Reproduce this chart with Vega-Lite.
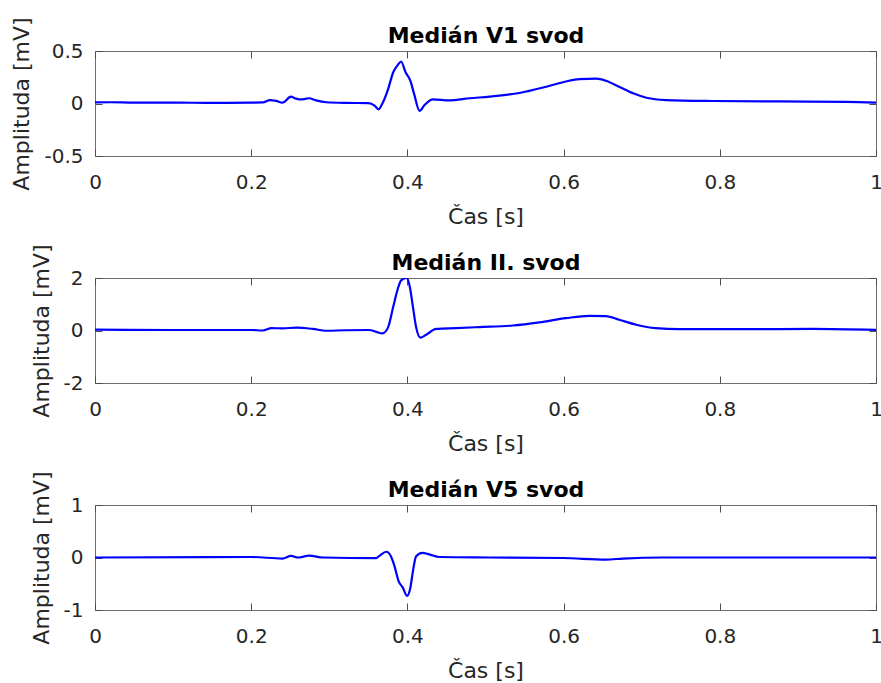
{
  "$schema": "https://vega.github.io/schema/vega-lite/v6.json",
  "padding": {"left": 10, "top": 16, "right": 4, "bottom": 0},
  "spacing": 122,
  "bounds": "flush",
  "config": {
    "font": "DejaVu Sans",
    "view": {"stroke": "#6e6e6e", "strokeWidth": 1},
    "axis": {
      "domain": false,
      "grid": false,
      "zindex": 1,
      "labelFont": "DejaVu Sans",
      "labelFontSize": 20,
      "labelColor": "#262626",
      "titleFont": "DejaVu Sans",
      "titleFontSize": 22,
      "titleFontWeight": "normal",
      "titleColor": "#262626",
      "labelFlush": false,
      "labelOverlap": false,
      "labelBound": false
    }
  },
  "datasets": {
    "v1": [
      {"t": 0, "v": 0.01}, {"t": 0.02, "v": 0.012}, {"t": 0.05, "v": 0.008}, {"t": 0.1, "v": 0.008},
      {"t": 0.15, "v": 0.006}, {"t": 0.2, "v": 0.008}, {"t": 0.215, "v": 0.01}, {"t": 0.224, "v": 0.033},
      {"t": 0.232, "v": 0.025}, {"t": 0.24, "v": 0.008}, {"t": 0.251, "v": 0.065}, {"t": 0.256, "v": 0.05},
      {"t": 0.262, "v": 0.04}, {"t": 0.268, "v": 0.042}, {"t": 0.274, "v": 0.05}, {"t": 0.283, "v": 0.03},
      {"t": 0.296, "v": 0.012}, {"t": 0.32, "v": 0.006}, {"t": 0.35, "v": 0.004}, {"t": 0.358, "v": -0.02},
      {"t": 0.363, "v": -0.055}, {"t": 0.368, "v": 0.0}, {"t": 0.375, "v": 0.13}, {"t": 0.382, "v": 0.3},
      {"t": 0.388, "v": 0.37}, {"t": 0.392, "v": 0.4}, {"t": 0.3975, "v": 0.3}, {"t": 0.4036, "v": 0.22},
      {"t": 0.409, "v": 0.08}, {"t": 0.4155, "v": -0.07}, {"t": 0.422, "v": -0.015}, {"t": 0.4325, "v": 0.04},
      {"t": 0.454, "v": 0.03}, {"t": 0.48, "v": 0.05}, {"t": 0.505, "v": 0.065}, {"t": 0.5435, "v": 0.1},
      {"t": 0.578, "v": 0.16}, {"t": 0.603, "v": 0.21}, {"t": 0.62, "v": 0.233}, {"t": 0.642, "v": 0.236},
      {"t": 0.654, "v": 0.217}, {"t": 0.671, "v": 0.16}, {"t": 0.689, "v": 0.097}, {"t": 0.706, "v": 0.055},
      {"t": 0.731, "v": 0.033}, {"t": 0.791, "v": 0.024}, {"t": 0.876, "v": 0.02}, {"t": 0.962, "v": 0.016},
      {"t": 1.0, "v": 0.008}
    ],
    "ii": [
      {"t": 0, "v": 0.03}, {"t": 0.1, "v": 0.02}, {"t": 0.2, "v": 0.02}, {"t": 0.215, "v": 0.0},
      {"t": 0.226, "v": 0.09}, {"t": 0.24, "v": 0.08}, {"t": 0.258, "v": 0.11}, {"t": 0.279, "v": 0.06},
      {"t": 0.296, "v": -0.01}, {"t": 0.32, "v": 0.01}, {"t": 0.351, "v": 0.02}, {"t": 0.36, "v": -0.05},
      {"t": 0.368, "v": -0.11}, {"t": 0.375, "v": 0.1}, {"t": 0.382, "v": 0.92}, {"t": 0.388, "v": 1.62},
      {"t": 0.392, "v": 1.91}, {"t": 0.399, "v": 2.0}, {"t": 0.403, "v": 1.68}, {"t": 0.407, "v": 0.92},
      {"t": 0.411, "v": 0.15}, {"t": 0.4165, "v": -0.27}, {"t": 0.424, "v": -0.16}, {"t": 0.437, "v": 0.06},
      {"t": 0.462, "v": 0.09}, {"t": 0.492, "v": 0.13}, {"t": 0.535, "v": 0.19}, {"t": 0.569, "v": 0.31},
      {"t": 0.603, "v": 0.47}, {"t": 0.633, "v": 0.56}, {"t": 0.654, "v": 0.55}, {"t": 0.671, "v": 0.41},
      {"t": 0.693, "v": 0.22}, {"t": 0.718, "v": 0.09}, {"t": 0.748, "v": 0.05}, {"t": 0.834, "v": 0.05},
      {"t": 0.919, "v": 0.06}, {"t": 1.0, "v": 0.02}
    ],
    "v5": [
      {"t": 0, "v": 0.0}, {"t": 0.2, "v": 0.01}, {"t": 0.24, "v": -0.02}, {"t": 0.251, "v": 0.03},
      {"t": 0.26, "v": 0.0}, {"t": 0.274, "v": 0.035}, {"t": 0.292, "v": 0.0}, {"t": 0.36, "v": -0.01},
      {"t": 0.364, "v": 0.03}, {"t": 0.373, "v": 0.11}, {"t": 0.379, "v": 0.02}, {"t": 0.383, "v": -0.14},
      {"t": 0.389, "v": -0.46}, {"t": 0.394, "v": -0.57}, {"t": 0.3995, "v": -0.73}, {"t": 0.4036, "v": -0.59},
      {"t": 0.407, "v": -0.27}, {"t": 0.411, "v": 0.02}, {"t": 0.419, "v": 0.09}, {"t": 0.428, "v": 0.06},
      {"t": 0.441, "v": 0.01}, {"t": 0.505, "v": 0.0}, {"t": 0.599, "v": -0.01}, {"t": 0.654, "v": -0.04},
      {"t": 0.676, "v": -0.02}, {"t": 0.727, "v": 0.0}, {"t": 1.0, "v": 0.0}
    ]
  },
  "vconcat": [
    {
      "width": 781, "height": 105,
      "data": {"name": "v1"},
      "layer": [
        {
          "mark": {"type": "line", "color": "#0000ff", "strokeWidth": 2.2, "clip": true, "interpolate": "monotone"},
          "encoding": {
            "x": {"field": "t", "type": "quantitative", "scale": {"domain": [0, 1], "nice": false},
                  "axis": {"orient": "bottom", "tickSize": 7, "offset": -7, "tickColor": "#4d4d4d", "labelPadding": 16, "titlePadding": 14, "values": [0, 0.2, 0.4, 0.6, 0.8, 1], "labelExpr": "datum.value + ''", "title": "Čas [s]"}},
            "y": {"field": "v", "type": "quantitative", "scale": {"domain": [-0.5, 0.5], "nice": false},
                  "axis": {"orient": "left", "tickSize": 7, "offset": -7, "tickColor": "#4d4d4d", "labelPadding": 12, "titlePadding": 10, "values": [-0.5, 0, 0.5], "labelExpr": "datum.value + ''", "title": "Amplituda [mV]"}}
          }
        },
        {
          "mark": {"type": "line", "opacity": 0},
          "encoding": {
            "x": {"field": "t", "type": "quantitative", "scale": {"domain": [0, 1], "nice": false},
                  "axis": {"orient": "top", "tickSize": 7, "offset": -7, "tickColor": "#4d4d4d", "values": [0, 0.2, 0.4, 0.6, 0.8, 1], "labels": false, "title": "Medián V1 svod", "titleFontWeight": "bold", "titleColor": "#000000", "titleFontSize": 22, "titlePadding": 3.5}},
            "y": {"field": "v", "type": "quantitative", "scale": {"domain": [-0.5, 0.5], "nice": false},
                  "axis": {"orient": "right", "tickSize": 7, "offset": -7, "tickColor": "#4d4d4d", "values": [-0.5, 0, 0.5], "labels": false, "title": null}}
          }
        }
      ],
      "resolve": {"axis": {"x": "independent", "y": "independent"}}
    },
    {
      "width": 781, "height": 105,
      "data": {"name": "ii"},
      "layer": [
        {
          "mark": {"type": "line", "color": "#0000ff", "strokeWidth": 2.2, "clip": true, "interpolate": "monotone"},
          "encoding": {
            "x": {"field": "t", "type": "quantitative", "scale": {"domain": [0, 1], "nice": false},
                  "axis": {"orient": "bottom", "tickSize": 7, "offset": -7, "tickColor": "#4d4d4d", "labelPadding": 16, "titlePadding": 14, "values": [0, 0.2, 0.4, 0.6, 0.8, 1], "labelExpr": "datum.value + ''", "title": "Čas [s]"}},
            "y": {"field": "v", "type": "quantitative", "scale": {"domain": [-2, 2], "nice": false},
                  "axis": {"orient": "left", "tickSize": 7, "offset": -7, "tickColor": "#4d4d4d", "labelPadding": 12, "titlePadding": 10, "values": [-2, 0, 2], "labelExpr": "datum.value + ''", "title": "Amplituda [mV]"}}
          }
        },
        {
          "mark": {"type": "line", "opacity": 0},
          "encoding": {
            "x": {"field": "t", "type": "quantitative", "scale": {"domain": [0, 1], "nice": false},
                  "axis": {"orient": "top", "tickSize": 7, "offset": -7, "tickColor": "#4d4d4d", "values": [0, 0.2, 0.4, 0.6, 0.8, 1], "labels": false, "title": "Medián II. svod", "titleFontWeight": "bold", "titleColor": "#000000", "titleFontSize": 22, "titlePadding": 3.5}},
            "y": {"field": "v", "type": "quantitative", "scale": {"domain": [-2, 2], "nice": false},
                  "axis": {"orient": "right", "tickSize": 7, "offset": -7, "tickColor": "#4d4d4d", "values": [-2, 0, 2], "labels": false, "title": null}}
          }
        }
      ],
      "resolve": {"axis": {"x": "independent", "y": "independent"}}
    },
    {
      "width": 781, "height": 105,
      "data": {"name": "v5"},
      "layer": [
        {
          "mark": {"type": "line", "color": "#0000ff", "strokeWidth": 2.2, "clip": true, "interpolate": "monotone"},
          "encoding": {
            "x": {"field": "t", "type": "quantitative", "scale": {"domain": [0, 1], "nice": false},
                  "axis": {"orient": "bottom", "tickSize": 7, "offset": -7, "tickColor": "#4d4d4d", "labelPadding": 16, "titlePadding": 14, "values": [0, 0.2, 0.4, 0.6, 0.8, 1], "labelExpr": "datum.value + ''", "title": "Čas [s]"}},
            "y": {"field": "v", "type": "quantitative", "scale": {"domain": [-1, 1], "nice": false},
                  "axis": {"orient": "left", "tickSize": 7, "offset": -7, "tickColor": "#4d4d4d", "labelPadding": 12, "titlePadding": 10, "values": [-1, 0, 1], "labelExpr": "datum.value + ''", "title": "Amplituda [mV]"}}
          }
        },
        {
          "mark": {"type": "line", "opacity": 0},
          "encoding": {
            "x": {"field": "t", "type": "quantitative", "scale": {"domain": [0, 1], "nice": false},
                  "axis": {"orient": "top", "tickSize": 7, "offset": -7, "tickColor": "#4d4d4d", "values": [0, 0.2, 0.4, 0.6, 0.8, 1], "labels": false, "title": "Medián V5 svod", "titleFontWeight": "bold", "titleColor": "#000000", "titleFontSize": 22, "titlePadding": 3.5}},
            "y": {"field": "v", "type": "quantitative", "scale": {"domain": [-1, 1], "nice": false},
                  "axis": {"orient": "right", "tickSize": 7, "offset": -7, "tickColor": "#4d4d4d", "values": [-1, 0, 1], "labels": false, "title": null}}
          }
        }
      ],
      "resolve": {"axis": {"x": "independent", "y": "independent"}}
    }
  ]
}
